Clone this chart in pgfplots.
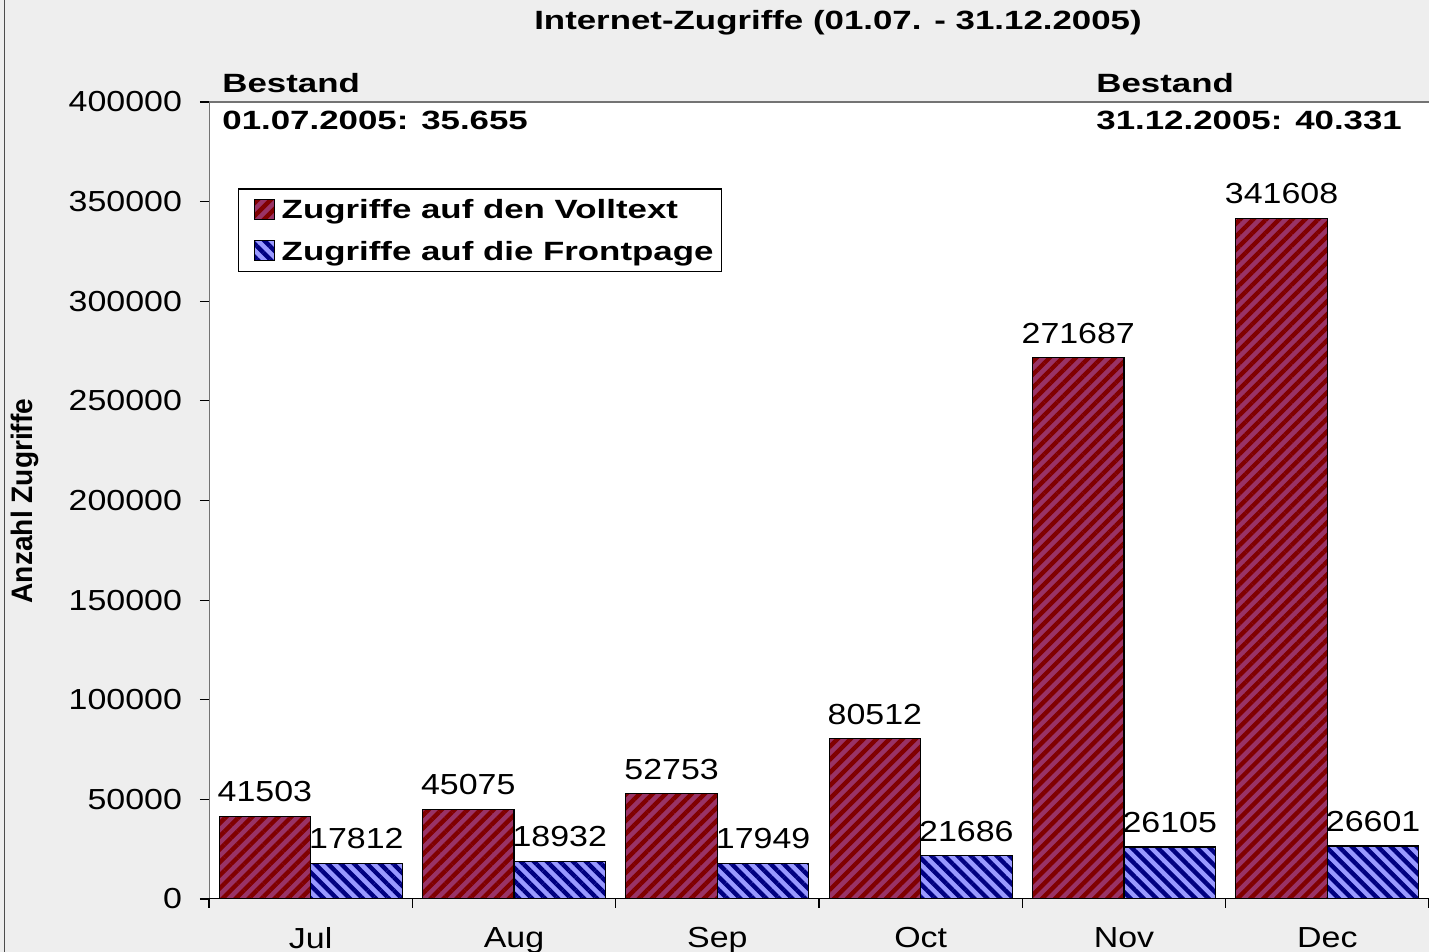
\documentclass[border=0pt]{standalone}
\usepackage{pgfplots}
\pgfplotsset{compat=1.18}
\usepackage{fontspec}
\setmainfont{Liberation Sans}[UprightFeatures={FakeStretch=1.17}, BoldFeatures={FakeStretch=1.32}]
\newfontfamily\ylabfont{Liberation Sans Bold}[FakeStretch=0.95]
\usetikzlibrary{patterns.meta}
\definecolor{plum}{HTML}{993366}
\definecolor{maroon}{HTML}{800000}
\definecolor{lblue}{HTML}{9999FF}
\definecolor{navy}{HTML}{000080}
\definecolor{bg}{HTML}{EEEEEE}
\newcommand{\regfont}{\fontsize{14.5}{17}\selectfont}
\newcommand{\bfont}{\bfseries\fontsize{13.2}{15}\selectfont}
\begin{document}
\begin{tikzpicture}[x=1pt,y=1pt]
\fill[bg] (0,0) rectangle (714.5,476);
\path[use as bounding box] (0,0) rectangle (714.5,476);
\draw[black!70, line width=0.8pt] (2.2,0) -- (2.2,476);
\begin{axis}[
  at={(104.5pt,26.5pt)}, anchor=south west,
  scale only axis, width=610pt, height=398.5pt,
  xmin=-0.5, xmax=5.5, ymin=0, ymax=400000,
  ybar=0pt, bar width=0.45,
  axis background/.style={fill=white},
  axis line style={draw=none},
  xtick={0,...,5}, xticklabels={Jul,Aug,Sep,Oct,Nov,Dec},
  major x tick style={draw=none},
  minor xtick={-0.5,0.5,...,5.5},
  xtick pos=bottom, ytick pos=left,
  ytick={0,50000,...,400000},
  scaled y ticks=false,
  /pgf/number format/.cd, fixed, 1000 sep={}, assume math mode=true, /pgfplots/.cd,
  tick align=outside, major tick length=4.5pt, minor tick length=4.5pt,
  tick style={black, line width=0.6pt},
  ticklabel style={font=\regfont},
  yticklabel style={xshift=-5.5pt},
  xticklabel style={yshift=-6pt},
  nodes near coords,
  every node near coord/.append style={font=\regfont, black, yshift=3.5pt},
  legend style={at={(0.0238,0.8915)}, anchor=north west, draw=black, fill=white,
    font=\bfont, inner xsep=0.5pt, inner ysep=0.75pt, row sep=2pt, line width=0.6pt,
    nodes={inner xsep=3.5pt, text height=12pt, text depth=2.8pt}},
  legend cell align=left,
  legend image code/.code={\path (0pt,0pt); \draw[#1, line width=0.5pt] (7pt,-5pt) rectangle (17pt,5pt);},
]
\addplot[fill=plum, draw=black, line width=0.6pt,
  postaction={pattern={Lines[angle=45,distance=4.6pt,line width=2.2pt]}, pattern color=maroon}]
  coordinates {(0,41503) (1,45075) (2,52753) (3,80512) (4,271687) (5,341608)};
\addlegendentry{Zugriffe auf den Volltext}
\addplot[fill=lblue, draw=black, line width=0.6pt,
  postaction={pattern={Lines[angle=-45,distance=4.6pt,line width=2.2pt]}, pattern color=navy}]
  coordinates {(0,17812) (1,18932) (2,17949) (3,21686) (4,26105) (5,26601)};
\addlegendentry{Zugriffe auf die Frontpage}
\draw[black!55, line width=0.8pt] (rel axis cs:0,0) -- (rel axis cs:0,1) -- (rel axis cs:1,1);
\draw[black, line width=0.8pt] (rel axis cs:0,0) -- (rel axis cs:1,0);
\end{axis}
\node[font=\bfont] at (419,464.5) {Internet-Zugriffe (01.07. - 31.12.2005)};
\node[font=\bfont, anchor=west, inner sep=0pt] at (111,434.5) {Bestand};
\node[font=\bfont, anchor=west, inner sep=0pt] at (111,416) {01.07.2005: 35.655};
\node[font=\bfont, anchor=west, inner sep=0pt] at (548,434.5) {Bestand};
\node[font=\bfont, anchor=west, inner sep=0pt] at (548,416) {31.12.2005: 40.331};
\node[font=\ylabfont\fontsize{14.8}{17}\selectfont, rotate=90] at (12.5,225.5) {Anzahl Zugriffe};
\end{tikzpicture}
\end{document}
